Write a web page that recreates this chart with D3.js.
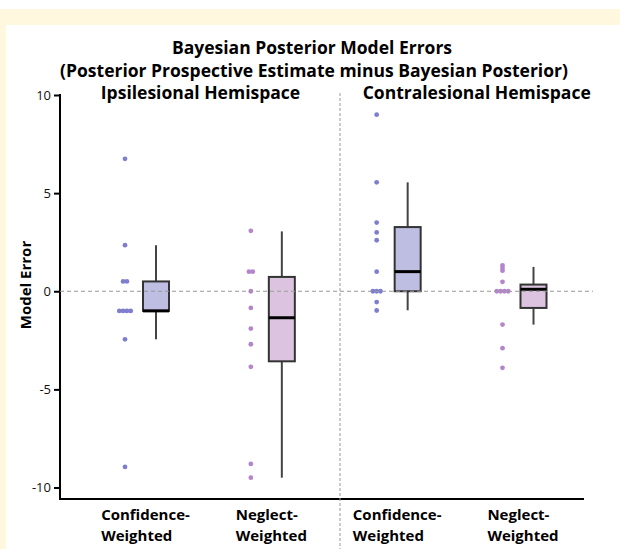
<!DOCTYPE html>
<html>
<head>
<meta charset="utf-8">
<script src="https://cdn.jsdelivr.net/npm/d3@7"></script>
<style>
  body { margin: 0; background: #fff; }
  text { font-family: "Open Sans", "Liberation Sans", sans-serif; }
</style>
</head>
<body>
<div id="chart"></div>
<script>
// Groups (left to right)
const groups = ["ipsiConf", "ipsiNeg", "contraConf", "contraNeg"];
const groupLabels = [["Confidence-", "Weighted"], ["Neglect-", "Weighted"], ["Confidence-", "Weighted"], ["Neglect-", "Weighted"]];
const groupKind = ["conf", "neg", "conf", "neg"];
const panelTitles = ["Ipsilesional Hemispace", "Contralesional Hemispace"];

// Individual points
const ipsiConfPts = [6.75, 2.35, 0.5, 0.5, -1, -1, -1, -1, -2.45, -8.95];
const ipsiNegPts = [3.08, 1.0, 1.0, 0, -0.85, -1.9, -2.7, -3.85, -8.8, -9.5];
const contraConfPts = [9.0, 5.55, 3.5, 3.0, 2.6, 1.0, 0, 0, 0, -0.55, -0.98];
const contraNegPts = [1.32, 1.18, 1.05, 0.48, 0, 0, 0, 0, -1.7, -2.9, -3.9];

// Box stats: [whiskerLow, q1, median, q3, whiskerHigh]
const ipsiConfBox = [-2.45, -1.0, -1.0, 0.5, 2.35];
const ipsiNegBox = [-9.5, -3.57, -1.35, 0.73, 3.05];
const contraConfBox = [-0.97, 0, 1.0, 3.27, 5.55];
const contraNegBox = [-1.7, -0.85, 0.1, 0.34, 1.24];

const yTicks = [10, 5, 0, -5, -10];

const points = [ipsiConfPts, ipsiNegPts, contraConfPts, contraNegPts];
const boxes = [ipsiConfBox, ipsiNegBox, contraConfBox, contraNegBox];

const colors = {
    conf: { dot: "#7e7ecf", fill: "#bebee2" },
    neg: { dot: "#b585cb", fill: "#dcc4e1" }
};

const W = 620, H = 549;
const svg = d3.select("#chart").append("svg")
    .attr("width", W)
    .attr("height", H);

// cream frame
svg.append("rect").attr("x", 0).attr("y", 9).attr("width", W).attr("height", H - 9).attr("fill", "#fff8df");
svg.append("rect").attr("x", 6).attr("y", 25).attr("width", W - 6).attr("height", H - 25).attr("fill", "#fff");

const x = d3.scalePoint().domain(groups).range([140.5, 518]);
const y = d3.scaleLinear().domain([-10, 10]).range([487.5, 95]);
const dotOff = -15.5, boxOff = 15.5, boxW = 26;

// Titles
svg.append("text").attr("x", 312).attr("y", 54).attr("text-anchor", "middle")
    .style("font-weight", "bold").style("font-size", "17.5px")
    .text("Bayesian Posterior Model Errors");
svg.append("text").attr("x", 314).attr("y", 77).attr("text-anchor", "middle")
    .style("font-weight", "bold").style("font-size", "17.5px")
    .text("(Posterior Prospective Estimate minus Bayesian Posterior)");

svg.selectAll(".ptitle")
    .data(panelTitles)
    .enter().append("text")
    .attr("x", (d, i) => i === 0 ? 200.5 : 476.7)
    .attr("y", 99)
    .attr("text-anchor", "middle")
    .style("font-weight", "bold").style("font-size", "17.5px")
    .text(d => d);

// Y axis
const yAxis = svg.append("g")
    .attr("transform", "translate(60,0)")
    .call(d3.axisLeft(y).tickValues(yTicks).tickSize(6).tickPadding(3).tickFormat(d => d));
yAxis.select(".domain").remove();
yAxis.selectAll(".tick line").attr("stroke", "#000").attr("stroke-width", 2);
yAxis.selectAll(".tick text").style("font-size", "13px").attr("fill", "#111");

svg.append("line").attr("x1", 60).attr("x2", 60).attr("y1", y(10) - 1).attr("y2", 499)
    .attr("stroke", "#000").attr("stroke-width", 2);
svg.append("line").attr("x1", 59).attr("x2", 584).attr("y1", 499).attr("y2", 499)
    .attr("stroke", "#000").attr("stroke-width", 2);

// Y label
svg.append("text")
    .attr("transform", `translate(31,${285}) rotate(-90)`)
    .attr("text-anchor", "middle")
    .style("font-weight", "bold").style("font-size", "15px")
    .text("Model Error");

// vertical divider
svg.append("line").attr("x1", 340).attr("x2", 340).attr("y1", 93).attr("y2", H)
    .attr("stroke", "#999").attr("stroke-width", 1).attr("stroke-dasharray", "3,2");

// Boxes
groups.forEach((g, i) => {
    const b = boxes[i];
    const cx = x(g) + boxOff;
    const gg = svg.append("g");
    gg.append("line").attr("x1", cx).attr("x2", cx).attr("y1", y(b[0])).attr("y2", y(b[4]))
        .attr("stroke", "#444").attr("stroke-width", 2);
    gg.append("rect").attr("x", cx - boxW / 2).attr("width", boxW)
        .attr("y", y(b[3])).attr("height", y(b[1]) - y(b[3]))
        .attr("fill", colors[groupKind[i]].fill)
        .attr("stroke", "#333").attr("stroke-width", 2);
    gg.append("line").attr("x1", cx - boxW / 2).attr("x2", cx + boxW / 2)
        .attr("y1", y(b[2])).attr("y2", y(b[2]))
        .attr("stroke", "#000").attr("stroke-width", 3);
});

// Points (equal values set side by side)
groups.forEach((g, i) => {
    const pts = points[i];
    const counts = d3.rollup(pts, v => v.length, d => d);
    const seen = new Map();
    const placed = pts.map(v => {
        const k = seen.get(v) || 0;
        seen.set(v, k + 1);
        const n = counts.get(v);
        return { v, off: (k - (n - 1) / 2) * 3.8 };
    });
    svg.selectAll(".pt" + i)
        .data(placed)
        .enter().append("circle")
        .attr("cx", d => x(g) + dotOff + d.off)
        .attr("cy", d => y(d.v))
        .attr("r", 2.4)
        .attr("fill", colors[groupKind[i]].dot);
});

// zero line
svg.append("line").attr("x1", 60).attr("x2", 593).attr("y1", y(0)).attr("y2", y(0))
    .attr("stroke", "#999").attr("stroke-width", 1.2).attr("stroke-dasharray", "4,3");

// X labels, left aligned block (one text per line)
groups.forEach((g, i) => {
    const lines = groupLabels[i].map((line, j) => svg.append("text")
        .attr("y", 520 + j * 21)
        .style("font-weight", "bold").style("font-size", "15px")
        .text(line));
    const widest = d3.max(lines, t => t.node().getComputedTextLength());
    lines.forEach(t => t.attr("x", x(g) + 5 - widest / 2));
});
</script>
</body>
</html>
